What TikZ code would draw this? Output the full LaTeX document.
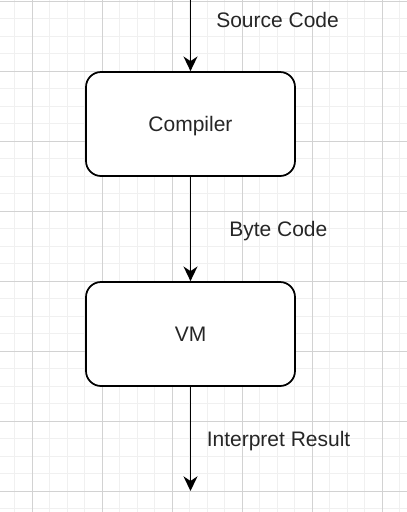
\documentclass[tikz,border=0pt]{standalone}
\usepackage{fontspec}
\setmainfont{Liberation Sans}
\usetikzlibrary{arrows.meta}
\begin{document}
\begin{tikzpicture}[x=0.75pt,y=-0.75pt,
  every node/.style={font=\fontsize{15.75}{18}\selectfont},
  box/.style={draw=black,line width=1.3pt,rounded corners=11.25pt,fill=white,
    minimum width=156.75pt,minimum height=78pt,inner sep=0pt,text=black!85,
    text height=11.6pt,text depth=0pt},
  conn/.style={draw=black,line width=1.3pt,-{Stealth[length=11pt,width=10.5pt,inset=3.5pt]}},
  lbl/.style={anchor=base west,inner sep=0pt,text=black!85},
  minorgrid/.style={draw={rgb,255:red,240;green,240;blue,240},line width=0.75pt},
  majorgrid/.style={draw={rgb,255:red,210;green,210;blue,210},line width=0.75pt}]
\useasboundingbox[fill=white] (0,0) rectangle (407,512);
% grid
\foreach \i in {0,...,23} {
  \draw[minorgrid] ({14.8+17.5*\i},0) -- ({14.8+17.5*\i},512);
}
\foreach \j in {0,...,29} {
  \draw[minorgrid] (0,{1+17.5*\j}) -- (407,{1+17.5*\j});
}
\foreach \i in {0,...,5} {
  \draw[majorgrid] ({32.3+70*\i},0) -- ({32.3+70*\i},512);
}
\foreach \j in {0,...,7} {
  \draw[majorgrid] (0,{1+70*\j}) -- (407,{1+70*\j});
}
% nodes
\node[box] (comp) at (190.5,124) {Compiler};
\node[box] (vm) at (190.5,334) {VM};
\coordinate (src) at (190.5,0);
\coordinate (res) at (190.5,491);
% connectors
\draw[conn] (src) -- (comp.north);
\draw[conn] (comp.south) -- (vm.north);
\draw[conn] (vm.south) -- (res);
% labels
\node[lbl] (l1) at (216,27.5) {Source Code};
\node[lbl] (l2) at (229,236.7) {Byte Code};
\node[lbl] (l3) at (206.5,446.7) {Interpret Result};
\end{tikzpicture}
\end{document}
